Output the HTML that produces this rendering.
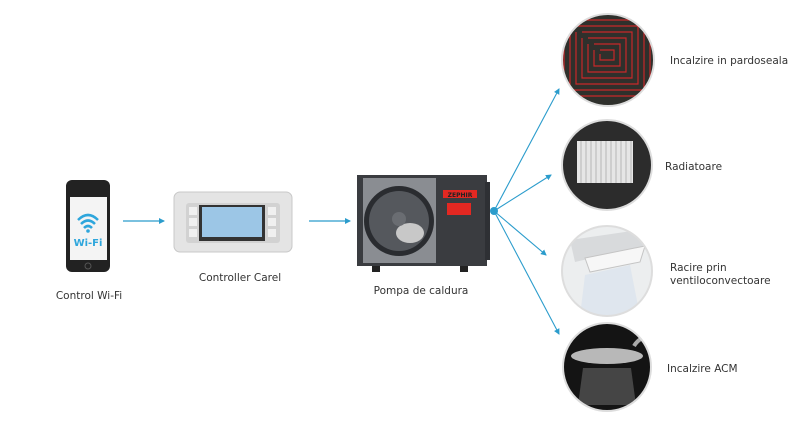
<!DOCTYPE html>
<html><head><meta charset="utf-8"><style>
html,body{margin:0;padding:0;background:#fff;}
svg{display:block;}
text{font-family:"DejaVu Sans","Liberation Sans",sans-serif;font-size:10.5px;fill:#333;}
</style></head><body>
<svg width="800" height="421" viewBox="0 0 800 421" xmlns="http://www.w3.org/2000/svg">
<defs>
<marker id="ah" markerWidth="6" markerHeight="6" refX="5" refY="3" orient="auto" markerUnits="userSpaceOnUse">
<path d="M0,0 L6,3 L0,6 Z" fill="#2b9ccc"/></marker>
<clipPath id="c1"><circle cx="608" cy="60" r="46"/></clipPath>
<clipPath id="c2"><circle cx="607" cy="165" r="45"/></clipPath>
<clipPath id="c3"><circle cx="607" cy="271" r="45"/></clipPath>
<clipPath id="c4"><circle cx="607" cy="367" r="44"/></clipPath>
</defs>

<!-- phone -->
<rect x="66" y="180" width="44" height="92" rx="6" fill="#222"/>
<rect x="70" y="197" width="37" height="63" fill="#f4f4f4"/>
<path d="M78,220 Q88,210 98,220" stroke="#2ea6dc" stroke-width="2.5" fill="none"/>
<path d="M81,224 Q88,217 95,224" stroke="#2ea6dc" stroke-width="2.5" fill="none"/>
<path d="M84,228 Q88,224 92,228" stroke="#2ea6dc" stroke-width="2.5" fill="none"/>
<circle cx="88" cy="231" r="1.8" fill="#2ea6dc"/>
<text x="88" y="246" text-anchor="middle" style="font-size:10px;font-weight:bold;fill:#2ea6dc">Wi-Fi</text>
<circle cx="88" cy="266" r="3" fill="none" stroke="#555"/>

<line x1="123" y1="221" x2="164" y2="221" stroke="#2b9ccc" stroke-width="1.3" marker-end="url(#ah)"/>

<!-- controller -->
<rect x="174" y="192" width="118" height="60" rx="6" fill="#e4e4e4" stroke="#c8c8c8"/>
<rect x="186" y="203" width="94" height="40" rx="3" fill="#d2d2d2"/>
<rect x="199" y="205" width="66" height="36" fill="#333"/>
<rect x="202" y="207" width="60" height="30" fill="#9cc6e6"/>
<rect x="189" y="207" width="8" height="8" fill="#f0f0f0"/><rect x="189" y="218" width="8" height="8" fill="#f0f0f0"/><rect x="189" y="229" width="8" height="8" fill="#f0f0f0"/>
<rect x="268" y="207" width="8" height="8" fill="#f0f0f0"/><rect x="268" y="218" width="8" height="8" fill="#f0f0f0"/><rect x="268" y="229" width="8" height="8" fill="#f0f0f0"/>

<line x1="309" y1="221" x2="350" y2="221" stroke="#2b9ccc" stroke-width="1.3" marker-end="url(#ah)"/>

<!-- heat pump -->
<rect x="357" y="175" width="130" height="91" fill="#3a3c40"/>
<rect x="485" y="182" width="5" height="78" fill="#2e3034"/>
<rect x="363" y="178" width="73" height="85" fill="#8a8d92"/>
<circle cx="399" cy="221" r="35" fill="#2a2c30"/>
<circle cx="399" cy="221" r="30" fill="#55585d"/>
<ellipse cx="410" cy="233" rx="14" ry="10" fill="#c8c8c8"/>
<circle cx="399" cy="219" r="7" fill="#6a6d72"/>
<rect x="443" y="190" width="34" height="8" fill="#e32822"/>
<text x="460" y="197" text-anchor="middle" style="font-size:6px;font-weight:bold;fill:#222">ZEPHIR</text>
<rect x="447" y="203" width="24" height="12" fill="#e32822"/>
<rect x="372" y="266" width="8" height="6" fill="#222"/><rect x="460" y="266" width="8" height="6" fill="#222"/>

<!-- hub -->
<circle cx="494" cy="211" r="4" fill="#2b9ccc"/>
<g stroke="#2b9ccc" stroke-width="1.1" fill="none">
<line x1="494" y1="211" x2="559" y2="89" marker-end="url(#ah)"/>
<line x1="494" y1="211" x2="551" y2="175" marker-end="url(#ah)"/>
<line x1="494" y1="211" x2="546" y2="255" marker-end="url(#ah)"/>
<line x1="494" y1="211" x2="559" y2="334" marker-end="url(#ah)"/>
</g>

<!-- circle 1 floor heating -->
<g clip-path="url(#c1)">
<rect x="560" y="12" width="100" height="100" fill="#2f302c"/>
<g stroke="#c8282a" stroke-width="1.2" fill="none">
<path d="M600,50 h14 v10 h-14 v-6"/>
<path d="M594,44 h26 v22 h-26 v-16"/>
<path d="M588,38 h38 v34 h-38 v-28"/>
<path d="M582,32 h50 v46 h-50 v-40"/>
<path d="M576,26 h62 v58 h-62 v-52"/>
<path d="M570,20 h74 v70 h-74 v-64"/>
<path d="M564,14 h86 v82 h-86 v-76"/>
</g></g>
<circle cx="608" cy="60" r="46" fill="none" stroke="#ddd" stroke-width="2"/>

<!-- circle 2 radiator -->
<g clip-path="url(#c2)">
<rect x="560" y="118" width="100" height="95" fill="#2c2c2c"/>
<rect x="577" y="141" width="56" height="42" fill="#e6e6e6"/>
<g stroke="#b5b5b5" stroke-width="1">
<line x1="581" y1="141" x2="581" y2="183"/><line x1="586" y1="141" x2="586" y2="183"/><line x1="591" y1="141" x2="591" y2="183"/><line x1="596" y1="141" x2="596" y2="183"/><line x1="601" y1="141" x2="601" y2="183"/><line x1="606" y1="141" x2="606" y2="183"/><line x1="611" y1="141" x2="611" y2="183"/><line x1="616" y1="141" x2="616" y2="183"/><line x1="621" y1="141" x2="621" y2="183"/><line x1="626" y1="141" x2="626" y2="183"/><line x1="631" y1="141" x2="631" y2="183"/>
</g></g>
<circle cx="607" cy="165" r="45" fill="none" stroke="#ddd" stroke-width="2"/>

<!-- circle 3 AC -->
<g clip-path="url(#c3)">
<rect x="560" y="224" width="100" height="95" fill="#eceeef"/>
<path d="M570,240 L652,228 L652,244 L575,262 Z" fill="#d8dadc"/>
<path d="M585,258 L645,246 L640,262 L590,272 Z" fill="#f7f7f7" stroke="#c4c4c4"/>
<path d="M585,275 L630,265 L640,316 L580,316 Z" fill="#dfe6ee"/>
</g>
<circle cx="607" cy="271" r="45" fill="none" stroke="#ddd" stroke-width="2"/>

<!-- circle 4 shower -->
<g clip-path="url(#c4)">
<rect x="560" y="322" width="100" height="92" fill="#141414"/>
<path d="M634,346 Q640,336 652,336" stroke="#aaa" stroke-width="4" fill="none"/>
<ellipse cx="607" cy="356" rx="36" ry="8" fill="#b8b8b8"/>
<path d="M583,368 L631,368 L636,405 L578,405 Z" fill="#666" opacity="0.6"/>
</g>
<circle cx="607" cy="367" r="44" fill="none" stroke="#ddd" stroke-width="2"/>

<!-- labels -->
<text x="89" y="299" text-anchor="middle">Control Wi-Fi</text>
<text x="240" y="281" text-anchor="middle">Controller Carel</text>
<text x="421" y="294" text-anchor="middle">Pompa de caldura</text>
<text x="670" y="64">Incalzire in pardoseala</text>
<text x="665" y="170">Radiatoare</text>
<text x="670" y="271">Racire prin</text>
<text x="670" y="284">ventiloconvectoare</text>
<text x="667" y="372">Incalzire ACM</text>
</svg>
</body></html>
